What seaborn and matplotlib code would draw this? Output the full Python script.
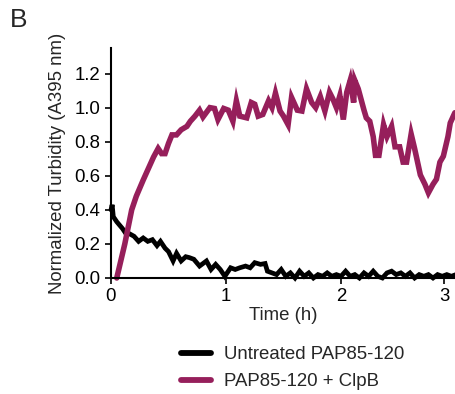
import numpy as np
import pandas as pd
import matplotlib
matplotlib.use("Agg")
import matplotlib.pyplot as plt
import seaborn as sns
from matplotlib.lines import Line2D

# ---- data ----
untreated_t = [0.00, 0.01, 0.02, 0.05, 0.10, 0.13, 0.16, 0.20, 0.24, 0.28, 0.32, 0.36, 0.40,
               0.43, 0.47, 0.50, 0.54, 0.57, 0.61, 0.65, 0.68, 0.72, 0.77, 0.83, 0.87, 0.91,
               0.95, 0.99, 1.04, 1.08, 1.12, 1.17, 1.21, 1.25, 1.30, 1.34, 1.36, 1.40, 1.44,
               1.48, 1.52, 1.56, 1.60, 1.64, 1.68, 1.72, 1.76, 1.80, 1.84, 1.88, 1.92, 1.96,
               2.00, 2.04, 2.08, 2.12, 2.16, 2.20, 2.24, 2.28, 2.32, 2.36, 2.40, 2.44, 2.48,
               2.52, 2.56, 2.60, 2.64, 2.68, 2.72, 2.76, 2.80, 2.84, 2.88, 2.92, 2.96, 3.00]
untreated_v = [0.40, 0.43, 0.36, 0.33, 0.29, 0.26, 0.26, 0.245, 0.215, 0.235, 0.215, 0.225, 0.19,
               0.215, 0.175, 0.155, 0.10, 0.145, 0.10, 0.125, 0.12, 0.11, 0.07, 0.10, 0.05, 0.08,
               0.05, 0.01, 0.06, 0.05, 0.06, 0.07, 0.06, 0.09, 0.08, 0.085, 0.04, 0.03, 0.02,
               0.05, 0.01, 0.03, 0.00, 0.04, 0.01, 0.03, 0.00, 0.02, 0.01, 0.03, 0.01, 0.02,
               0.01, 0.04, 0.01, 0.02, 0.00, 0.03, 0.01, 0.04, 0.01, 0.00, 0.03, 0.04, 0.02,
               0.03, 0.01, 0.03, 0.00, 0.02, 0.01, 0.02, 0.00, 0.02, 0.01, 0.02, 0.01, 0.02]

clpb_t = [0.05, 0.12, 0.18, 0.22, 0.28, 0.32, 0.37, 0.41, 0.44, 0.47, 0.50, 0.53, 0.57, 0.61,
          0.66, 0.69, 0.73, 0.77, 0.80, 0.86, 0.90, 0.93, 0.98, 1.02, 1.06, 1.09, 1.12, 1.18,
          1.22, 1.25, 1.28, 1.32, 1.37, 1.40, 1.43, 1.47, 1.50, 1.54, 1.57, 1.62, 1.66, 1.70,
          1.745, 1.78, 1.82, 1.86, 1.90, 1.93, 1.96, 1.99, 2.02, 2.05, 2.08, 2.11, 2.12, 2.15,
          2.20, 2.22, 2.25, 2.28, 2.30, 2.33, 2.37, 2.40, 2.44, 2.47, 2.51, 2.54, 2.57, 2.61,
          2.64, 2.69, 2.73, 2.76, 2.80, 2.83, 2.86, 2.89, 2.93, 2.95, 2.99]
clpb_v = [0.00, 0.20, 0.40, 0.48, 0.575, 0.635, 0.71, 0.76, 0.73, 0.73, 0.79, 0.84, 0.84, 0.87,
          0.89, 0.92, 0.95, 0.985, 0.945, 1.00, 0.995, 0.93, 0.995, 0.985, 0.92, 1.04, 0.95, 0.94,
          1.03, 1.02, 0.95, 0.96, 1.04, 1.00, 1.085, 0.98, 0.95, 0.90, 1.06, 0.985, 0.98, 1.11,
          1.03, 1.00, 1.065, 0.98, 1.09, 1.05, 1.00, 1.07, 0.93, 1.09, 1.16, 1.03, 1.16, 1.11,
          0.985, 0.94, 0.92, 0.83, 0.72, 0.72, 0.90, 0.83, 0.89, 0.77, 0.77, 0.68, 0.68, 0.845,
          0.76, 0.605, 0.55, 0.50, 0.55, 0.58, 0.68, 0.715, 0.83, 0.91, 0.97]

series_names = ["Untreated PAP85-120", "PAP85-120 + ClpB"]
series_colors = ["#000000", "#961F5B"]
x_tick_values = [0, 1, 2, 2.9]
x_tick_labels = ["0", "1", "2", "3"]
y_tick_values = [0, 0.2, 0.4, 0.6, 0.8, 1.0, 1.2]
y_tick_labels = ["0.0", "0.2", "0.4", "0.6", "0.8", "1.0", "1.2"]

df = pd.concat([
    pd.DataFrame({"t": untreated_t, "v": untreated_v, "s": series_names[0]}),
    pd.DataFrame({"t": clpb_t, "v": clpb_v, "s": series_names[1]}),
], ignore_index=True)

sns.set_theme(style="ticks")
plt.rcParams["font.family"] = ["Liberation Sans", "DejaVu Sans"]
FS = 13.4

fig = plt.figure(figsize=(4.56, 3.94), dpi=100)
ax = fig.add_axes([111 / 456, 116 / 394, 345 / 456, 230 / 394])

sns.lineplot(data=df, x="t", y="v", hue="s", palette=series_colors,
             hue_order=series_names, estimator=None, sort=False, ax=ax,
             linewidth=3.4, legend=False)
for ln in ax.lines:
    ln.set_clip_on(False)
    ln.set_solid_joinstyle("miter")
ax.lines[1].set_linewidth(4.0)

ax.set_xlim(0, 3.0)
ax.set_ylim(0, 1.35)
ax.set_xticks(x_tick_values)
ax.set_xticklabels(x_tick_labels)
ax.set_yticks(y_tick_values)
ax.set_yticklabels(y_tick_labels)
ax.tick_params(axis="both", labelsize=FS, length=4, width=1.2, pad=3.5,
               color="black", labelcolor="black", direction="out")
for side in ["left", "bottom"]:
    ax.spines[side].set_linewidth(1.5)
    ax.spines[side].set_color("black")
sns.despine(ax=ax)
ax.set_xlabel("Time (h)", fontsize=FS, labelpad=1)
ax.set_ylabel("Normalized Turbidity (A395 nm)", fontsize=FS, labelpad=6)

handles = [Line2D([], [], color=c, lw=4.2) for c in series_colors]
fig.legend(handles, series_names, loc="upper left",
           bbox_to_anchor=(181 / 456, 1 - 346 / 394), frameon=False,
           fontsize=FS, handlelength=1.6, handletextpad=0.7, labelspacing=0.55,
           borderpad=0, borderaxespad=0)

fig.text(10 / 456, 1 - 8 / 394, "B", fontsize=19, ha="left", va="top")

fig.savefig("out.png", dpi=100)
